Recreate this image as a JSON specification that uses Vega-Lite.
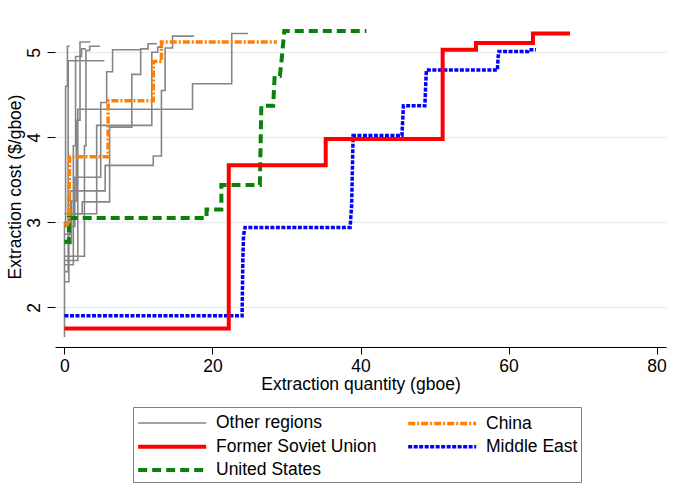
{
  "$schema": "https://vega.github.io/schema/vega-lite/v6.json",
  "width": 611,
  "height": 321,
  "autosize": {"type": "none"},
  "padding": {"left": 55, "top": 26, "right": 8, "bottom": 141},
  "background": "white",
  "config": {
    "font": "Liberation Sans",
    "view": {"stroke": null},
    "axis": {
      "labelFont": "Liberation Sans",
      "titleFont": "Liberation Sans",
      "labelFontSize": 17.5,
      "titleFontSize": 17.5,
      "labelColor": "black",
      "titleColor": "black",
      "titleFontWeight": "normal",
      "tickColor": "black",
      "domainColor": "black",
      "tickWidth": 1,
      "domainWidth": 1
    },
    "legend": {
      "labelFont": "Liberation Sans",
      "labelFontSize": 17.5,
      "labelColor": "black",
      "labelLimit": 400
    }
  },
  "data": {
    "values": [
      {"s": "Other regions", "l": "g1", "i": 0, "x": 0, "y": 1.65},
      {"s": "Other regions", "l": "g1", "i": 1, "x": 0, "y": 3.0},
      {"s": "Other regions", "l": "g1", "i": 2, "x": 0.15, "y": 3.0},
      {"s": "Other regions", "l": "g1", "i": 3, "x": 0.15, "y": 4.6},
      {"s": "Other regions", "l": "g1", "i": 4, "x": 0.4, "y": 4.6},
      {"s": "Other regions", "l": "g1", "i": 5, "x": 0.4, "y": 5.07},
      {"s": "Other regions", "l": "g1", "i": 6, "x": 0.7, "y": 5.07},

      {"s": "Other regions", "l": "g2", "i": 0, "x": 0, "y": 2.42},
      {"s": "Other regions", "l": "g2", "i": 1, "x": 0.5, "y": 2.42},
      {"s": "Other regions", "l": "g2", "i": 2, "x": 0.5, "y": 4.9},
      {"s": "Other regions", "l": "g2", "i": 3, "x": 5.4, "y": 4.9},

      {"s": "Other regions", "l": "g3", "i": 0, "x": 0, "y": 2.75},
      {"s": "Other regions", "l": "g3", "i": 1, "x": 0.95, "y": 2.75},
      {"s": "Other regions", "l": "g3", "i": 2, "x": 0.95, "y": 3.25},
      {"s": "Other regions", "l": "g3", "i": 3, "x": 1.6, "y": 3.25},
      {"s": "Other regions", "l": "g3", "i": 4, "x": 1.6, "y": 4.2},
      {"s": "Other regions", "l": "g3", "i": 5, "x": 2.1, "y": 4.2},
      {"s": "Other regions", "l": "g3", "i": 6, "x": 2.1, "y": 5.12},
      {"s": "Other regions", "l": "g3", "i": 7, "x": 3.5, "y": 5.12},

      {"s": "Other regions", "l": "g4", "i": 0, "x": 0, "y": 2.6},
      {"s": "Other regions", "l": "g4", "i": 1, "x": 2.7, "y": 2.6},
      {"s": "Other regions", "l": "g4", "i": 2, "x": 2.7, "y": 3.9},
      {"s": "Other regions", "l": "g4", "i": 3, "x": 2.9, "y": 3.9},
      {"s": "Other regions", "l": "g4", "i": 4, "x": 2.9, "y": 5.02},
      {"s": "Other regions", "l": "g4", "i": 5, "x": 3.4, "y": 5.02},
      {"s": "Other regions", "l": "g4", "i": 6, "x": 3.4, "y": 5.07},
      {"s": "Other regions", "l": "g4", "i": 7, "x": 4.8, "y": 5.07},

      {"s": "Other regions", "l": "g5", "i": 0, "x": 0, "y": 2.55},
      {"s": "Other regions", "l": "g5", "i": 1, "x": 1.8, "y": 2.55},
      {"s": "Other regions", "l": "g5", "i": 2, "x": 1.8, "y": 4.33},
      {"s": "Other regions", "l": "g5", "i": 3, "x": 17.3, "y": 4.33},
      {"s": "Other regions", "l": "g5", "i": 4, "x": 17.3, "y": 4.63},
      {"s": "Other regions", "l": "g5", "i": 5, "x": 22.6, "y": 4.63},
      {"s": "Other regions", "l": "g5", "i": 6, "x": 22.6, "y": 5.22},
      {"s": "Other regions", "l": "g5", "i": 7, "x": 24.8, "y": 5.22},

      {"s": "Other regions", "l": "g6", "i": 0, "x": 0, "y": 2.86},
      {"s": "Other regions", "l": "g6", "i": 1, "x": 0.8, "y": 2.86},
      {"s": "Other regions", "l": "g6", "i": 2, "x": 0.8, "y": 3.37},
      {"s": "Other regions", "l": "g6", "i": 3, "x": 5.5, "y": 3.37},
      {"s": "Other regions", "l": "g6", "i": 4, "x": 5.5, "y": 3.67},
      {"s": "Other regions", "l": "g6", "i": 5, "x": 12.0, "y": 3.67},
      {"s": "Other regions", "l": "g6", "i": 6, "x": 12.0, "y": 3.78},
      {"s": "Other regions", "l": "g6", "i": 7, "x": 13.1, "y": 3.78},
      {"s": "Other regions", "l": "g6", "i": 8, "x": 13.1, "y": 4.55},
      {"s": "Other regions", "l": "g6", "i": 9, "x": 13.6, "y": 4.55},
      {"s": "Other regions", "l": "g6", "i": 10, "x": 13.6, "y": 5.05},
      {"s": "Other regions", "l": "g6", "i": 11, "x": 14.6, "y": 5.05},
      {"s": "Other regions", "l": "g6", "i": 12, "x": 14.6, "y": 5.19},
      {"s": "Other regions", "l": "g6", "i": 13, "x": 17.5, "y": 5.19},

      {"s": "Other regions", "l": "g7", "i": 0, "x": 0, "y": 2.95},
      {"s": "Other regions", "l": "g7", "i": 1, "x": 1.4, "y": 2.95},
      {"s": "Other regions", "l": "g7", "i": 2, "x": 1.4, "y": 3.53},
      {"s": "Other regions", "l": "g7", "i": 3, "x": 4.9, "y": 3.53},
      {"s": "Other regions", "l": "g7", "i": 4, "x": 4.9, "y": 4.41},
      {"s": "Other regions", "l": "g7", "i": 5, "x": 5.7, "y": 4.41},
      {"s": "Other regions", "l": "g7", "i": 6, "x": 5.7, "y": 4.77},
      {"s": "Other regions", "l": "g7", "i": 7, "x": 6.5, "y": 4.77},
      {"s": "Other regions", "l": "g7", "i": 8, "x": 6.5, "y": 5.03},
      {"s": "Other regions", "l": "g7", "i": 9, "x": 10.3, "y": 5.03},

      {"s": "Other regions", "l": "g8", "i": 0, "x": 0, "y": 3.1},
      {"s": "Other regions", "l": "g8", "i": 1, "x": 2.4, "y": 3.1},
      {"s": "Other regions", "l": "g8", "i": 2, "x": 2.4, "y": 3.24},
      {"s": "Other regions", "l": "g8", "i": 3, "x": 6.1, "y": 3.24},
      {"s": "Other regions", "l": "g8", "i": 4, "x": 6.1, "y": 4.12},
      {"s": "Other regions", "l": "g8", "i": 5, "x": 9.1, "y": 4.12},
      {"s": "Other regions", "l": "g8", "i": 6, "x": 9.1, "y": 4.74},
      {"s": "Other regions", "l": "g8", "i": 7, "x": 10.3, "y": 4.74},
      {"s": "Other regions", "l": "g8", "i": 8, "x": 10.3, "y": 5.04},
      {"s": "Other regions", "l": "g8", "i": 9, "x": 11.3, "y": 5.04},
      {"s": "Other regions", "l": "g8", "i": 10, "x": 11.3, "y": 5.1},
      {"s": "Other regions", "l": "g8", "i": 11, "x": 12.5, "y": 5.1},

      {"s": "Other regions", "l": "g9", "i": 0, "x": 0, "y": 2.3},
      {"s": "Other regions", "l": "g9", "i": 1, "x": 0.6, "y": 2.3},
      {"s": "Other regions", "l": "g9", "i": 2, "x": 0.6, "y": 3.1},
      {"s": "Other regions", "l": "g9", "i": 3, "x": 4.35, "y": 3.1},
      {"s": "Other regions", "l": "g9", "i": 4, "x": 4.35, "y": 4.14},
      {"s": "Other regions", "l": "g9", "i": 5, "x": 11.8, "y": 4.14},
      {"s": "Other regions", "l": "g9", "i": 6, "x": 11.8, "y": 5.0},
      {"s": "Other regions", "l": "g9", "i": 7, "x": 12.6, "y": 5.0},
      {"s": "Other regions", "l": "g9", "i": 8, "x": 12.6, "y": 5.06},
      {"s": "Other regions", "l": "g9", "i": 9, "x": 13.3, "y": 5.06},

      {"s": "Other regions", "l": "g10", "i": 0, "x": 0, "y": 2.5},
      {"s": "Other regions", "l": "g10", "i": 1, "x": 1.2, "y": 2.5},
      {"s": "Other regions", "l": "g10", "i": 2, "x": 1.2, "y": 3.9},
      {"s": "Other regions", "l": "g10", "i": 3, "x": 1.5, "y": 3.9},
      {"s": "Other regions", "l": "g10", "i": 4, "x": 1.5, "y": 4.95},
      {"s": "Other regions", "l": "g10", "i": 5, "x": 2.3, "y": 4.95},
      {"s": "Other regions", "l": "g10", "i": 6, "x": 2.3, "y": 5.04},
      {"s": "Other regions", "l": "g10", "i": 7, "x": 2.9, "y": 5.04},

      {"s": "Middle East", "l": "me", "i": 0, "x": 0, "y": 1.9},
      {"s": "Middle East", "l": "me", "i": 1, "x": 24.0, "y": 1.9},
      {"s": "Middle East", "l": "me", "i": 2, "x": 24.1, "y": 2.55},
      {"s": "Middle East", "l": "me", "i": 3, "x": 24.2, "y": 2.85},
      {"s": "Middle East", "l": "me", "i": 4, "x": 24.4, "y": 2.94},
      {"s": "Middle East", "l": "me", "i": 5, "x": 38.6, "y": 2.94},
      {"s": "Middle East", "l": "me", "i": 6, "x": 38.8, "y": 3.2},
      {"s": "Middle East", "l": "me", "i": 7, "x": 38.9, "y": 3.6},
      {"s": "Middle East", "l": "me", "i": 8, "x": 39.0, "y": 4.02},
      {"s": "Middle East", "l": "me", "i": 9, "x": 45.6, "y": 4.02},
      {"s": "Middle East", "l": "me", "i": 10, "x": 45.7, "y": 4.2},
      {"s": "Middle East", "l": "me", "i": 11, "x": 45.8, "y": 4.37},
      {"s": "Middle East", "l": "me", "i": 12, "x": 48.7, "y": 4.37},
      {"s": "Middle East", "l": "me", "i": 13, "x": 48.8, "y": 4.6},
      {"s": "Middle East", "l": "me", "i": 14, "x": 48.9, "y": 4.79},
      {"s": "Middle East", "l": "me", "i": 15, "x": 58.5, "y": 4.79},
      {"s": "Middle East", "l": "me", "i": 16, "x": 58.6, "y": 4.95},
      {"s": "Middle East", "l": "me", "i": 17, "x": 58.7, "y": 5.01},
      {"s": "Middle East", "l": "me", "i": 18, "x": 62.6, "y": 5.01},
      {"s": "Middle East", "l": "me", "i": 19, "x": 62.7, "y": 5.03},
      {"s": "Middle East", "l": "me", "i": 20, "x": 63.7, "y": 5.03},

      {"s": "United States", "l": "us", "i": 0, "x": 0, "y": 2.77},
      {"s": "United States", "l": "us", "i": 1, "x": 0.6, "y": 2.77},
      {"s": "United States", "l": "us", "i": 2, "x": 0.6, "y": 3.05},
      {"s": "United States", "l": "us", "i": 3, "x": 19.2, "y": 3.05},
      {"s": "United States", "l": "us", "i": 4, "x": 19.2, "y": 3.15},
      {"s": "United States", "l": "us", "i": 5, "x": 21.2, "y": 3.15},
      {"s": "United States", "l": "us", "i": 6, "x": 21.2, "y": 3.44},
      {"s": "United States", "l": "us", "i": 7, "x": 26.4, "y": 3.44},
      {"s": "United States", "l": "us", "i": 8, "x": 26.6, "y": 4.37},
      {"s": "United States", "l": "us", "i": 9, "x": 28.2, "y": 4.37},
      {"s": "United States", "l": "us", "i": 10, "x": 28.4, "y": 4.72},
      {"s": "United States", "l": "us", "i": 11, "x": 29.1, "y": 4.72},
      {"s": "United States", "l": "us", "i": 12, "x": 29.3, "y": 4.87},
      {"s": "United States", "l": "us", "i": 13, "x": 29.7, "y": 5.25},
      {"s": "United States", "l": "us", "i": 14, "x": 40.8, "y": 5.25},

      {"s": "China", "l": "cn", "i": 0, "x": 0, "y": 2.97},
      {"s": "China", "l": "cn", "i": 1, "x": 0.4, "y": 2.97},
      {"s": "China", "l": "cn", "i": 2, "x": 0.6, "y": 3.05},
      {"s": "China", "l": "cn", "i": 3, "x": 0.7, "y": 3.77},
      {"s": "China", "l": "cn", "i": 4, "x": 5.9, "y": 3.77},
      {"s": "China", "l": "cn", "i": 5, "x": 5.9, "y": 4.43},
      {"s": "China", "l": "cn", "i": 6, "x": 12.0, "y": 4.43},
      {"s": "China", "l": "cn", "i": 7, "x": 12.0, "y": 4.89},
      {"s": "China", "l": "cn", "i": 8, "x": 13.1, "y": 4.89},
      {"s": "China", "l": "cn", "i": 9, "x": 13.1, "y": 5.12},
      {"s": "China", "l": "cn", "i": 10, "x": 28.7, "y": 5.12},

      {"s": "Former Soviet Union", "l": "fsu", "i": 0, "x": 0, "y": 1.75},
      {"s": "Former Soviet Union", "l": "fsu", "i": 1, "x": 22.2, "y": 1.75},
      {"s": "Former Soviet Union", "l": "fsu", "i": 2, "x": 22.2, "y": 3.67},
      {"s": "Former Soviet Union", "l": "fsu", "i": 3, "x": 35.3, "y": 3.67},
      {"s": "Former Soviet Union", "l": "fsu", "i": 4, "x": 35.3, "y": 3.98},
      {"s": "Former Soviet Union", "l": "fsu", "i": 5, "x": 51.1, "y": 3.98},
      {"s": "Former Soviet Union", "l": "fsu", "i": 6, "x": 51.1, "y": 5.03},
      {"s": "Former Soviet Union", "l": "fsu", "i": 7, "x": 55.6, "y": 5.03},
      {"s": "Former Soviet Union", "l": "fsu", "i": 8, "x": 55.6, "y": 5.11},
      {"s": "Former Soviet Union", "l": "fsu", "i": 9, "x": 63.3, "y": 5.11},
      {"s": "Former Soviet Union", "l": "fsu", "i": 10, "x": 63.3, "y": 5.22},
      {"s": "Former Soviet Union", "l": "fsu", "i": 11, "x": 68.3, "y": 5.22}
    ]
  },
  "mark": {"type": "line", "interpolate": "linear", "strokeCap": "butt", "strokeJoin": "miter", "clip": true},
  "encoding": {
    "x": {
      "field": "x",
      "type": "quantitative",
      "scale": {"domain": [-1.28, 81.28], "nice": false, "zero": false},
      "axis": {
        "title": "Extraction quantity (gboe)",
        "values": [0, 20, 40, 60, 80],
        "grid": false,
        "tickSize": 7,
        "labelPadding": 3,
        "titlePadding": 1,
        "labelFlush": false,
        "labelOverlap": false
      }
    },
    "y": {
      "field": "y",
      "type": "quantitative",
      "scale": {"domain": [1.533, 5.309], "nice": false, "zero": false},
      "axis": {
        "title": "Extraction cost ($/gboe)",
        "values": [2, 3, 4, 5],
        "domain": false,
        "grid": true,
        "gridColor": "#e8eef0",
        "gridWidth": 1.5,
        "tickSize": 8,
        "labelAngle": -90,
        "labelAlign": "center",
        "labelBaseline": "bottom",
        "labelPadding": 4,
        "titlePadding": 1,
        "labelFlush": false,
        "labelOverlap": false,
        "encode": {
          "labels": {
            "update": {
              "angle": {"value": -90},
              "align": {"value": "center"},
              "baseline": {"value": "bottom"}
            }
          }
        }
      }
    },
    "detail": {"field": "l"},
    "order": {"field": "i", "type": "quantitative"},
    "color": {
      "field": "s",
      "type": "nominal",
      "scale": {
        "domain": ["Other regions", "Former Soviet Union", "United States", "China", "Middle East"],
        "range": ["#858585", "#ff0000", "#0a820a", "#ff8000", "#0000ff"]
      },
      "legend": {
        "title": null,
        "orient": "none",
        "legendX": 78,
        "legendY": 381,
        "columns": 2,
        "symbolType": "M-1,0H5",
        "symbolSize": 513.8,
        "labelOffset": 53,
        "labelLimit": 400,
        "columnPadding": 24,
        "rowPadding": 1.3,
        "padding": 3,
        "strokeColor": "#7f7f7f",
        "fillColor": "white"
      }
    },
    "strokeDash": {
      "field": "s",
      "type": "nominal",
      "scale": {
        "domain": ["Other regions", "Former Soviet Union", "United States", "China", "Middle East"],
        "range": [[1, 0], [1, 0], [9, 5], [7, 2, 2, 2], [4, 1.5]]
      },
      "legend": {
        "title": null,
        "orient": "none",
        "legendX": 78,
        "legendY": 381,
        "columns": 2,
        "symbolType": "M-1,0H5",
        "symbolSize": 513.8,
        "labelOffset": 53,
        "labelLimit": 400,
        "columnPadding": 24,
        "rowPadding": 1.3,
        "padding": 3,
        "strokeColor": "#7f7f7f",
        "fillColor": "white"
      }
    },
    "strokeWidth": {
      "field": "s",
      "type": "nominal",
      "scale": {
        "type": "ordinal",
        "domain": ["Other regions", "Former Soviet Union", "United States", "China", "Middle East"],
        "range": [1.6, 4, 4, 3.5, 3.5]
      },
      "legend": {
        "title": null,
        "orient": "none",
        "legendX": 78,
        "legendY": 381,
        "columns": 2,
        "symbolType": "M-1,0H5",
        "symbolSize": 513.8,
        "labelOffset": 53,
        "labelLimit": 400,
        "columnPadding": 24,
        "rowPadding": 1.3,
        "padding": 3,
        "strokeColor": "#7f7f7f",
        "fillColor": "white"
      }
    }
  }
}
